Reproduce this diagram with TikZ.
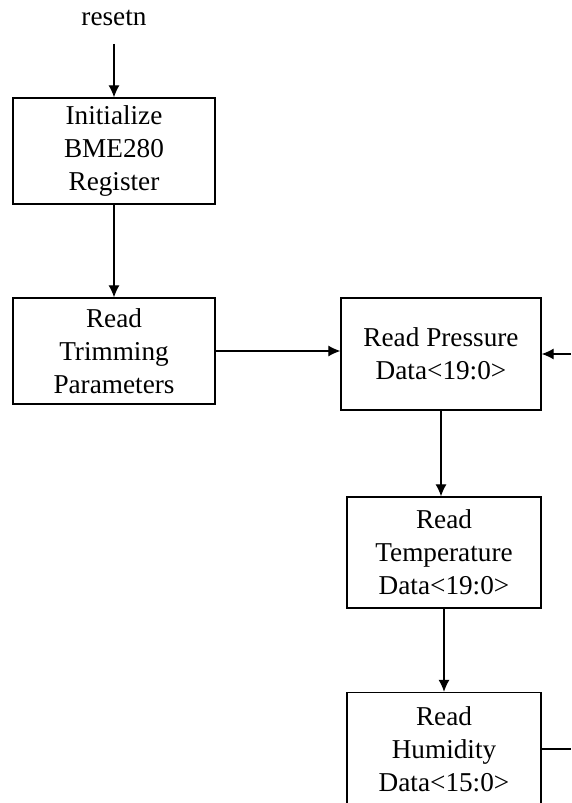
\documentclass[tikz,border=0pt]{standalone}
\usepackage{fontspec}
\setmainfont{Liberation Serif}
\usetikzlibrary{arrows.meta}
\tikzset{
    stage/.style={draw=black, line width=0.8pt, align=center, inner sep=0pt,
        font=\fontsize{15.5}{18.8}\selectfont},
    flow/.style={-{Latex[length=2.4mm,width=2.2mm]}, line width=0.6pt}
}

\begin{document}
\begin{tikzpicture}[x=0.02cm, y=-0.02cm]
    \useasboundingbox (0,0) rectangle (571,803);
    \clip (0,0) rectangle (571,803);
    \node[font=\fontsize{15.5}{18.8}\selectfont] (rst) at (114,18) {resetn};
    \node[stage, minimum width=4.04cm, minimum height=2.12cm] (init) at (114,151) {Initialize\\BME280\\Register};
    \node[stage, minimum width=4.04cm, minimum height=2.12cm] (trim) at (114,351) {Read\\Trimming\\Parameters};
    \node[stage, minimum width=4.0cm, minimum height=2.24cm] (pres) at (441,354) {Read Pressure\\Data<19:0>};
    \node[stage, minimum width=3.88cm, minimum height=2.22cm] (temp) at (444,552.5) {Read\\Temperature\\Data<19:0>};
    \node[stage, minimum width=3.88cm, minimum height=2.26cm] (hum) at (444,749) {Read\\Humidity\\Data<15:0>};
    \coordinate (loopin) at (571,354);
    \coordinate (loopout) at (571,749);
    \draw[flow] (rst.south) ++(0,12) -- (init.north);
    \draw[flow] (init) -- (trim);
    \draw[flow] (trim.east) -- (pres.west |- trim.east);
    \draw[flow] (loopin) -- (pres.east);
    \draw[flow] (pres.south) -- (pres.south |- temp.north);
    \draw[flow] (temp) -- (hum);
    \draw[line width=0.6pt] (hum.east) -- (loopout);
\end{tikzpicture}
\end{document}
